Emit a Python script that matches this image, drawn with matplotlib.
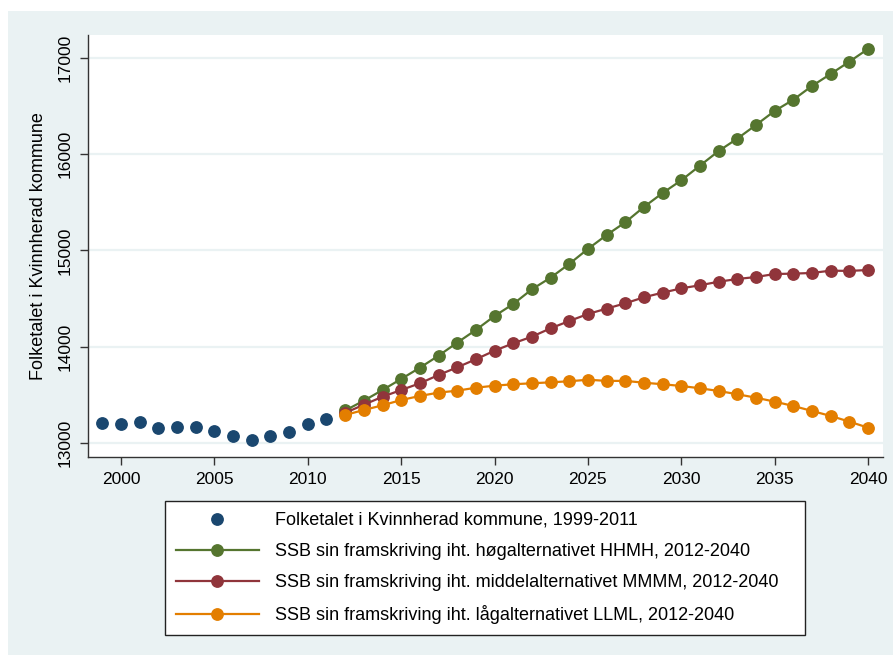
import matplotlib.pyplot as plt
from matplotlib.patches import Rectangle
from matplotlib.lines import Line2D

plt.rcParams['font.family'] = ['Liberation Sans', 'DejaVu Sans']

# Folketal 1999-2011
years_hist = list(range(1999, 2012))
pop_hist = [13208, 13198, 13215, 13150, 13160, 13163, 13122, 13073, 13028, 13070, 13114, 13195, 13247]

# SSB framskriving 2012-2040
years_proj = list(range(2012, 2041))
high = [13335, 13437, 13548, 13663, 13780, 13905, 14041, 14173, 14318, 14443, 14596,
        14717, 14860, 15016, 15161, 15293, 15453, 15598, 15730, 15883, 16035, 16164,
        16306, 16452, 16569, 16712, 16837, 16965, 17097]
mid = [13310, 13395, 13478, 13548, 13618, 13704, 13784, 13868, 13957, 14034, 14103,
       14190, 14266, 14339, 14395, 14450, 14513, 14561, 14606, 14638, 14675, 14703,
       14724, 14755, 14759, 14766, 14790, 14787, 14797]
low = [13288, 13340, 13389, 13444, 13486, 13521, 13541, 13572, 13593, 13608, 13618,
       13628, 13639, 13655, 13643, 13643, 13624, 13608, 13590, 13566, 13538, 13504,
       13468, 13427, 13382, 13330, 13278, 13219, 13156]

labels = ["Folketalet i Kvinnherad kommune, 1999-2011",
          "SSB sin framskriving iht. høgalternativet HHMH, 2012-2040",
          "SSB sin framskriving iht. middelalternativet MMMM, 2012-2040",
          "SSB sin framskriving iht. lågalternativet LLML, 2012-2040"]

navy = "#1A476F"
green = "#55752F"
maroon = "#90353B"
orange = "#E37E00"
bg = "#EAF2F3"

W, H = 893, 655
fig = plt.figure(figsize=(W / 100, H / 100), dpi=100)
fig.patch.set_facecolor("white")
fig.patches.append(Rectangle((8 / W, 0), 1 - 8 / W, 1 - 11 / H, transform=fig.transFigure,
                             facecolor=bg, edgecolor="none", zorder=-10))

ax = fig.add_axes([88 / W, 1 - 457 / H, 795 / W, 422 / H])
ax.set_facecolor("white")

ms = 8.2
lw = 1.6
ax.plot(years_hist, pop_hist, "o", color=navy, ms=ms, zorder=5)
ax.plot(years_proj, high, "-o", color=green, ms=ms, lw=lw, zorder=4)
ax.plot(years_proj, mid, "-o", color=maroon, ms=ms, lw=lw, zorder=4)
ax.plot(years_proj, low, "-o", color=orange, ms=ms, lw=lw, zorder=4)

ax.set_xlim(1998.23, 2040.8)
ax.set_ylim(12851, 17242)
ax.set_xticks(range(2000, 2041, 5))
ax.set_yticks(range(13000, 17001, 1000))
ax.grid(axis="y", color=bg, lw=1.6, zorder=0)
ax.set_axisbelow(True)

for s in ["top", "right"]:
    ax.spines[s].set_visible(False)
for s in ["left", "bottom"]:
    ax.spines[s].set_color("#333333")
    ax.spines[s].set_linewidth(1.0)

ax.tick_params(axis="both", length=6, width=1, color="#333333", labelsize=12.5, pad=5)
ax.tick_params(axis="y", labelrotation=90)
for t in ax.get_yticklabels():
    t.set_va("center")
ax.set_ylabel("Folketalet i Kvinnherad kommune", fontsize=13, labelpad=8)

handles = [Line2D([], [], ls="none", marker="o", color=navy, ms=ms),
           Line2D([], [], ls="-", marker="o", color=green, ms=ms, lw=lw),
           Line2D([], [], ls="-", marker="o", color=maroon, ms=ms, lw=lw),
           Line2D([], [], ls="-", marker="o", color=orange, ms=ms, lw=lw)]
leg = fig.legend(handles, labels, loc="upper left",
                 bbox_to_anchor=(165 / W, 1 - 633 / H, 640 / W, 132 / H), mode="expand",
                 fontsize=13, handlelength=4.6, handletextpad=0.9, labelspacing=0.78,
                 borderpad=0.6, borderaxespad=0, fancybox=False, framealpha=1)
leg.get_frame().set_edgecolor("#222222")
leg.get_frame().set_linewidth(1.0)

fig.savefig("out.png", dpi=100)
